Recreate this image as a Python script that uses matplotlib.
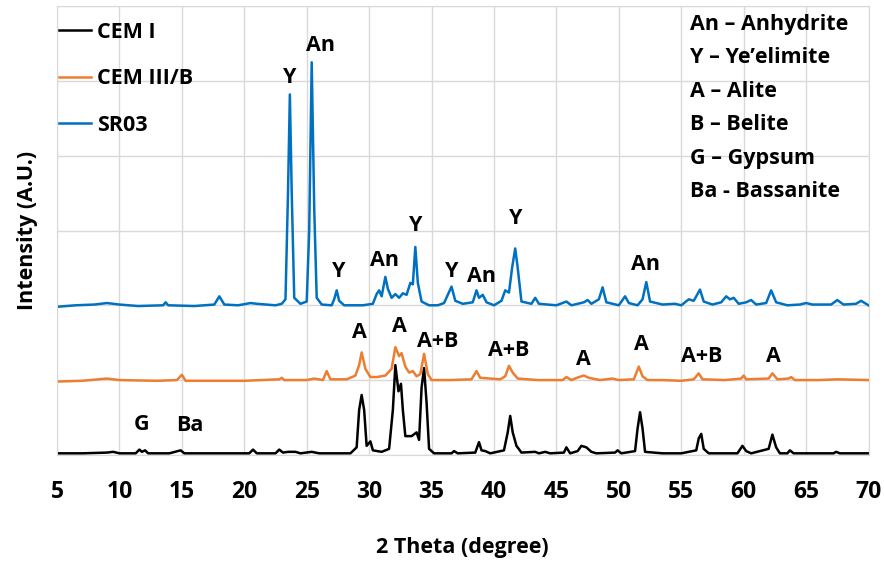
import matplotlib
matplotlib.use("Agg")
import matplotlib.pyplot as plt

plt.rcParams['font.family'] = ['Open Sans', 'DejaVu Sans']
plt.rcParams['font.weight'] = 'bold'

# traced XRD patterns (2 theta, intensity in gridline units, offset stacked)
sr03_x = [5.0, 6.5, 8.0, 9.0, 10.0, 11.5, 13.5, 13.7, 13.9, 16.0, 17.6, 18.0, 18.4, 19.5, 20.5, 21.0,
          22.5, 23.0, 23.3, 23.5, 23.65, 23.8, 24.0, 24.5, 25.0, 25.2, 25.4, 25.6, 25.8, 26.2, 27.0,
          27.2, 27.4, 27.6, 28.0, 29.5, 30.3, 30.6, 30.8, 31.0, 31.3, 31.5, 31.8, 32.1, 32.4, 32.7,
          33.0, 33.3, 33.5, 33.7, 33.9, 34.2, 34.8, 35.5, 36.0, 36.6, 36.9, 37.5, 38.3, 38.6, 38.8,
          39.1, 39.4, 40.0, 40.6, 40.9, 41.2, 41.45, 41.7, 41.9, 42.2, 43.0, 43.3, 43.6, 45.0, 45.8,
          46.2, 47.2, 47.5, 47.8, 48.4, 48.7, 49.0, 50.0, 50.5, 50.8, 51.5, 51.9, 52.2, 52.5, 53.5,
          54.5, 55.0, 55.6, 56.0, 56.5, 56.8, 57.5, 58.2, 58.6, 58.9, 59.2, 59.6, 60.2, 60.6, 61.0,
          61.8, 62.2, 62.6, 63.5, 64.5, 65.0, 65.5, 67.0, 67.5, 68.0, 69.0, 69.4, 70.0]
sr03_y = [1.98, 2.00, 2.01, 2.03, 2.01, 1.99, 2.00, 2.04, 2.00, 1.99, 2.01, 2.12, 2.01, 2.00, 2.03, 2.02,
          2.00, 2.02, 2.08, 3.50, 4.82, 3.50, 2.10, 2.02, 2.05, 3.00, 5.25, 3.30, 2.10, 2.01, 2.00,
          2.08, 2.20, 2.06, 2.00, 2.00, 2.02, 2.15, 2.20, 2.12, 2.38, 2.22, 2.10, 2.15, 2.10, 2.16,
          2.14, 2.30, 2.28, 2.78, 2.30, 2.05, 2.00, 2.00, 2.03, 2.25, 2.06, 2.02, 2.04, 2.20, 2.10,
          2.14, 2.04, 2.00, 2.06, 2.20, 2.17, 2.50, 2.76, 2.50, 2.05, 2.02, 2.10, 2.02, 2.00, 2.05,
          2.00, 2.04, 2.07, 2.02, 2.08, 2.24, 2.04, 2.00, 2.12, 2.03, 2.00, 2.08, 2.31, 2.05, 2.01,
          2.02, 2.00, 2.08, 2.06, 2.21, 2.05, 2.01, 2.04, 2.12, 2.08, 2.10, 2.02, 2.04, 2.07, 2.01,
          2.03, 2.20, 2.04, 2.00, 2.01, 2.03, 2.01, 2.01, 2.07, 2.01, 2.02, 2.06, 2.00]

cem3_x = [5.0, 7.0, 9.0, 10.0, 13.0, 14.6, 15.0, 15.3, 17.0, 20.0, 22.8, 23.0, 23.2, 25.0, 25.6, 26.3,
          26.6, 26.9, 28.2, 28.9, 29.2, 29.4, 29.7, 30.1, 30.6, 31.3, 31.8, 32.1, 32.4, 32.6, 32.9,
          33.2, 33.5, 33.8, 34.1, 34.4, 34.7, 35.0, 36.5, 38.2, 38.6, 38.9, 40.5, 40.9, 41.2, 41.5,
          41.9, 43.5, 45.5, 45.8, 46.2, 46.8, 47.2, 47.6, 48.5, 49.5, 50.0, 51.2, 51.6, 51.9, 52.3,
          53.5, 55.0, 56.0, 56.4, 56.7, 58.5, 59.8, 60.0, 60.2, 62.0, 62.3, 62.7, 63.6, 63.8, 64.1,
          66.0, 67.5, 70.0]
cem3_y = [0.98, 0.99, 1.02, 1.00, 0.99, 1.00, 1.07, 0.99, 0.99, 0.99, 1.01, 1.03, 1.00, 1.00, 1.02, 1.00,
          1.12, 1.01, 1.01, 1.06, 1.20, 1.37, 1.15, 1.04, 1.04, 1.06, 1.15, 1.44, 1.32, 1.36, 1.18,
          1.10, 1.12, 1.05, 1.08, 1.35, 1.08, 1.00, 1.00, 1.01, 1.12, 1.03, 1.01, 1.05, 1.19, 1.10,
          1.02, 1.00, 1.00, 1.04, 1.00, 1.04, 1.06, 1.03, 1.00, 1.02, 1.00, 1.01, 1.18, 1.05, 1.00,
          1.00, 0.99, 1.01, 1.09, 1.01, 1.00, 1.02, 1.06, 1.01, 1.02, 1.09, 1.01, 1.02, 1.04, 1.00,
          1.00, 1.01, 1.00]

cem1_x = [5.0, 7.0, 9.0, 9.5, 10.0, 11.3, 11.6, 11.8, 12.05, 12.3, 14.0, 14.9, 15.2, 18.0, 20.4, 20.7,
          21.0, 22.5, 22.8, 23.1, 23.5, 24.1, 24.5, 25.4, 26.0, 28.5, 29.0, 29.2, 29.4, 29.6, 29.8,
          30.1, 30.3, 31.0, 31.6, 31.9, 32.1, 32.35, 32.55, 32.7, 32.9, 33.4, 33.8, 34.0, 34.2, 34.4,
          34.6, 34.8, 35.2, 36.6, 36.8, 37.1, 38.5, 38.8, 39.0, 39.3, 39.7, 40.8, 41.1, 41.3, 41.5,
          41.8, 42.2, 43.3, 43.6, 44.1, 44.5, 45.6, 45.8, 46.1, 46.7, 47.0, 47.4, 47.8, 48.2, 49.7,
          49.9, 50.2, 51.3, 51.5, 51.7, 51.9, 52.1, 53.5, 55.0, 56.2, 56.4, 56.6, 56.8, 57.2, 59.5,
          59.9, 60.2, 60.6, 62.0, 62.3, 62.6, 62.9, 63.5, 63.7, 64.0, 67.2, 67.4, 67.7, 70.0]
cem1_y = [0.02, 0.02, 0.03, 0.04, 0.02, 0.02, 0.07, 0.04, 0.06, 0.02, 0.02, 0.06, 0.02, 0.02, 0.02, 0.07,
          0.02, 0.02, 0.07, 0.03, 0.04, 0.04, 0.02, 0.04, 0.02, 0.02, 0.10, 0.60, 0.80, 0.60, 0.12,
          0.18, 0.06, 0.04, 0.08, 0.60, 1.20, 0.85, 0.95, 0.60, 0.25, 0.25, 0.30, 0.20, 0.90, 1.16,
          0.70, 0.08, 0.02, 0.02, 0.05, 0.02, 0.03, 0.17, 0.06, 0.05, 0.02, 0.06, 0.30, 0.52, 0.30,
          0.12, 0.03, 0.04, 0.02, 0.04, 0.02, 0.03, 0.10, 0.02, 0.05, 0.12, 0.10, 0.04, 0.02, 0.03,
          0.06, 0.02, 0.05, 0.35, 0.57, 0.35, 0.04, 0.02, 0.02, 0.06, 0.22, 0.28, 0.08, 0.02, 0.02,
          0.12, 0.05, 0.02, 0.08, 0.27, 0.10, 0.02, 0.02, 0.06, 0.02, 0.02, 0.04, 0.02, 0.02]

# peak labels: text, 2 theta, height
label_text = ["Y", "An", "Y", "An", "Y", "Y", "An", "Y", "An",
              "A", "A", "A+B", "A+B", "A", "A", "A+B", "A", "G", "Ba"]
label_x = [23.65, 26.1, 27.6, 31.2, 33.7, 36.6, 39.0, 41.75, 52.1,
           29.2, 32.4, 35.5, 41.2, 47.2, 51.85, 56.6, 62.4, 11.8, 15.65]
label_y = [5.05, 5.48, 2.45, 2.6, 3.07, 2.45, 2.38, 3.16, 2.54,
           1.64, 1.71, 1.51, 1.40, 1.28, 1.47, 1.31, 1.31, 0.41, 0.39]

phases = ["An \u2013 Anhydrite", "Y \u2013 Ye\u2019elimite", "A \u2013 Alite",
          "B \u2013 Belite", "G \u2013 Gypsum", "Ba - Bassanite"]

fig = plt.figure(figsize=(8.84, 5.65), dpi=100)
ax = fig.add_axes([0.0645, 0.195, 0.918, 0.794])

grid_c = "#d9d9d9"
ax.plot(cem1_x, cem1_y, color="black", lw=1.8, label="CEM I")
ax.plot(cem3_x, cem3_y, color="#ED7D31", lw=1.8, label="CEM III/B")
ax.plot(sr03_x, sr03_y, color="#0070C0", lw=1.8, label="SR03")

ax.set_xlim(5, 70)
ax.set_ylim(0, 6)
ax.set_xticks(range(5, 71, 5))
ax.set_yticks(range(0, 7))
ax.set_yticklabels([])
ax.grid(True, color=grid_c, lw=1)
ax.set_axisbelow(True)
ax.tick_params(length=0, labelsize=16.5, pad=18)
for s in ax.spines.values():
    s.set_color(grid_c)

for t, x, y in zip(label_text, label_x, label_y):
    ax.text(x, y, t, ha="center", va="center", fontsize=15.5, fontweight="bold")

for i, p in enumerate(phases):
    fig.text(0.781, 0.957 - i * 0.0593, p, ha="left", va="center", fontsize=15.5, fontweight="bold")

ax.legend(loc="upper left", frameon=False, fontsize=15.5, handlelength=1.5, handletextpad=0.25,
          labelspacing=1.18, borderaxespad=0.0, borderpad=0.4, bbox_to_anchor=(-0.008, 0.984))

ax.set_xlabel("2 Theta (degree)", fontsize=15.5, fontweight="bold")
ax.set_ylabel("Intensity (A.U.)", fontsize=15.5, fontweight="bold")
ax.xaxis.set_label_coords(0.5, -0.183)
ax.yaxis.set_label_coords(-0.023, 0.5)

fig.savefig("out.png", dpi=100)
